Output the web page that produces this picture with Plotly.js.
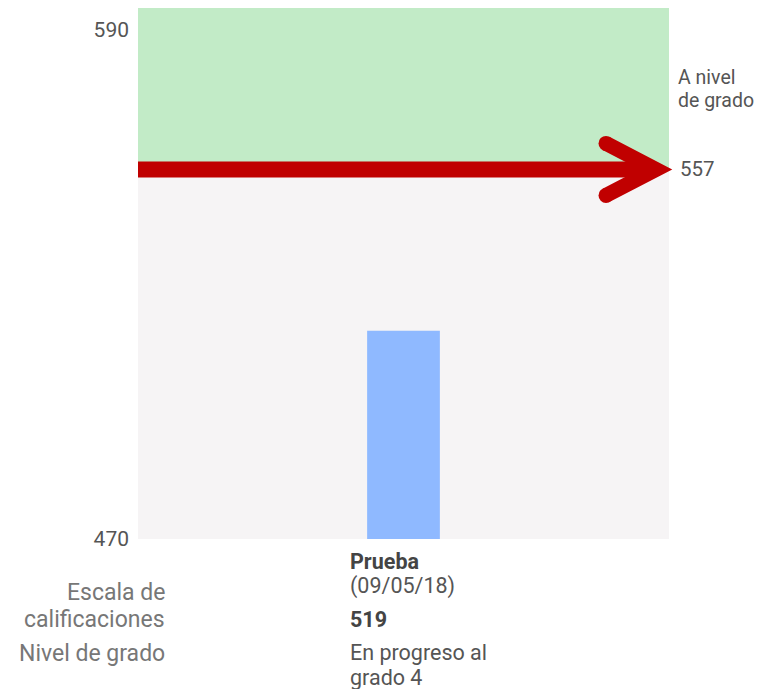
<!DOCTYPE html>
<html>
<head>
<meta charset="utf-8">
<script src="https://cdn.plot.ly/plotly-3.0.1.min.js"></script>
<style>html,body{margin:0;padding:0;background:#fff;}#chart{width:766px;height:689px;}</style>
</head>
<body>
<div id="chart"></div>
<script>
// Data
var categories = ['Prueba'];
var scores = [519];
var gradeLevelCut = 557;
var axisMin = 470;
var axisMax = 595;
var tickValues = [470, 590];
var testDate = '(09/05/18)';
var gradeLevelText = ['En progreso al', 'grado 4'];
var rowLabels = ['Escala de', 'calificaciones', 'Nivel de grado'];
var zoneLabel = ['A nivel', 'de grado'];

var FONT = 'Roboto, "Open Sans", sans-serif';
var red = '#C00000';
var plotBottom = 539; // px of plot bottom in page

function below(text, yPix, xShift, anchor, opts) {
  opts = opts || {};
  return {
    text: text, xref: 'paper', yref: 'paper', x: 0, y: 0,
    xanchor: anchor, yanchor: 'middle', xshift: xShift, yshift: -(yPix - plotBottom),
    showarrow: false, borderpad: 0,
    font: {family: FONT, size: opts.size || 21.5, color: opts.color || '#555', weight: opts.weight || 'normal'}
  };
}

var annotations = [
  below('<b>' + categories[0] + '</b>', 561, 211, 'left', {color: '#444'}),
  below(testDate, 586, 211, 'left'),
  below('<b>' + scores[0] + '</b>', 619, 211, 'left', {color: '#444'}),
  below(gradeLevelText[0], 652, 211, 'left'),
  below(gradeLevelText[1], 677, 211, 'left'),
  below(rowLabels[0], 592, 28, 'right', {color: '#777', size: 23}),
  below(rowLabels[1], 619, 28, 'right', {color: '#777', size: 23}),
  below(rowLabels[2], 653, 28, 'right', {color: '#777', size: 23}),
  {text: String(gradeLevelCut), xref: 'paper', yref: 'y', x: 1, y: gradeLevelCut,
   xanchor: 'left', yanchor: 'middle', xshift: 9, showarrow: false,
   font: {family: FONT, size: 20.5, color: '#555'}},
  {text: zoneLabel[0], xref: 'paper', yref: 'y', x: 1, y: (gradeLevelCut + axisMax) / 2,
   xanchor: 'left', yanchor: 'middle', xshift: 9, yshift: 11.5, showarrow: false, borderpad: 0, borderwidth: 0,
   font: {family: FONT, size: 19.5, color: '#555'}},
  {text: zoneLabel[1], xref: 'paper', yref: 'y', x: 1, y: (gradeLevelCut + axisMax) / 2,
   xanchor: 'left', yanchor: 'middle', xshift: 9, yshift: -11.5, showarrow: false, borderpad: 0, borderwidth: 0,
   font: {family: FONT, size: 19.5, color: '#555'}}
];

var shapes = [
  {type: 'rect', xref: 'paper', yref: 'y', x0: 0, x1: 1, y0: gradeLevelCut, y1: axisMax,
   fillcolor: 'rgb(194,235,199)', line: {width: 0}, layer: 'below'},
  {type: 'line', xref: 'paper', yref: 'y', x0: 0, x1: 0.975, y0: gradeLevelCut, y1: gradeLevelCut,
   line: {color: red, width: 16}, layer: 'above'},
  {type: 'path', xref: 'paper', yref: 'y', xsizemode: 'pixel', ysizemode: 'pixel',
   xanchor: 1, yanchor: gradeLevelCut,
   path: 'M -63,26 L -13,0 L -63,-26',
   line: {color: red, width: 15}, layer: 'above'},
  {type: 'circle', xref: 'paper', yref: 'y', xsizemode: 'pixel', ysizemode: 'pixel',
   xanchor: 1, yanchor: gradeLevelCut, x0: -70.5, x1: -55.5, y0: 18.5, y1: 33.5,
   fillcolor: red, line: {width: 0}, layer: 'above'},
  {type: 'circle', xref: 'paper', yref: 'y', xsizemode: 'pixel', ysizemode: 'pixel',
   xanchor: 1, yanchor: gradeLevelCut, x0: -70.5, x1: -55.5, y0: -33.5, y1: -18.5,
   fillcolor: red, line: {width: 0}, layer: 'above'}
];

var data = [{
  type: 'bar', x: categories, y: scores, width: 0.137,
  marker: {color: 'rgb(143,185,255)', line: {width: 0}},
  hoverinfo: 'skip'
}];

var layout = {
  width: 766, height: 689,
  margin: {l: 138, r: 97, t: 8, b: 150, pad: 0},
  paper_bgcolor: '#ffffff',
  plot_bgcolor: 'rgb(246,244,245)',
  showlegend: false,
  xaxis: {range: [-0.5, 0.5], showticklabels: false, showgrid: false, zeroline: false, showline: false, ticks: '', fixedrange: true},
  yaxis: {range: [axisMin, axisMax], tickvals: tickValues, ticks: '', showgrid: false, zeroline: false, showline: false,
          ticklabelstandoff: 8, tickfont: {family: FONT, size: 21, color: '#555'}, fixedrange: true},
  shapes: shapes,
  annotations: annotations
};

Plotly.newPlot('chart', data, layout, {displayModeBar: false, staticPlot: true});
</script>
</body>
</html>
